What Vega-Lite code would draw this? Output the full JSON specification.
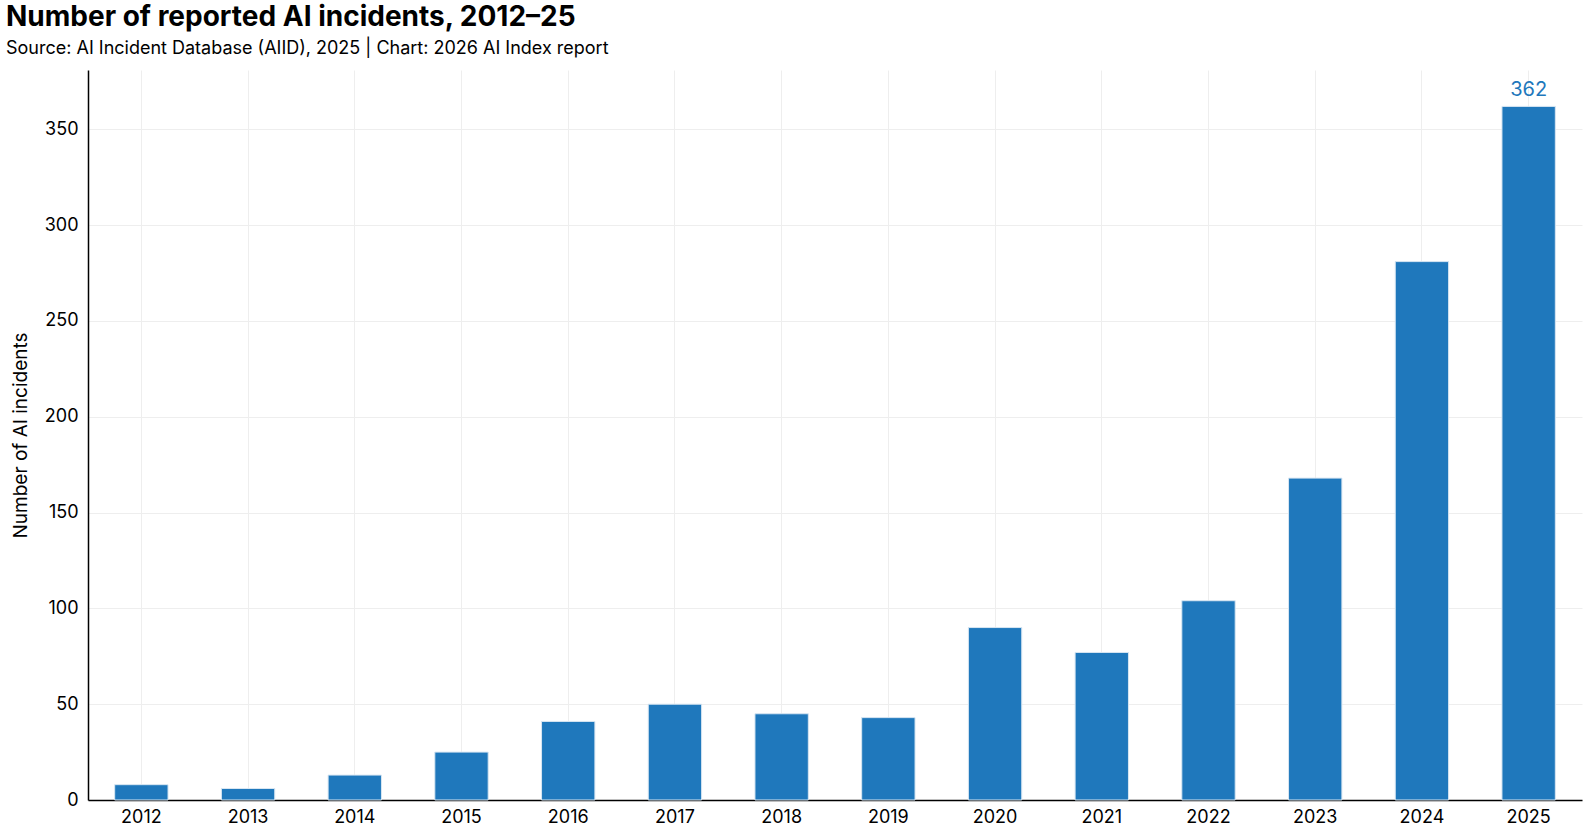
{
  "$schema": "https://vega.github.io/schema/vega-lite/v6.json",
  "width": 1586,
  "height": 840,
  "autosize": {"type": "fit", "contains": "padding"},
  "padding": {"left": 6, "right": 4, "top": 4, "bottom": 14},
  "background": "white",
  "title": {
    "text": "Number of reported AI incidents, 2012–25",
    "subtitle": "Source: AI Incident Database (AIID), 2025 | Chart: 2026 AI Index report",
    "anchor": "start",
    "frame": "group",
    "offset": 12,
    "font": "Inter",
    "fontSize": 28,
    "fontWeight": "bold",
    "color": "black",
    "subtitleFont": "Inter",
    "subtitleFontSize": 18,
    "subtitleColor": "black",
    "subtitlePadding": 8,
    "dx": -82
  },
  "data": {
    "values": [
      {"year": "2012", "count": 8},
      {"year": "2013", "count": 6},
      {"year": "2014", "count": 13},
      {"year": "2015", "count": 25},
      {"year": "2016", "count": 41},
      {"year": "2017", "count": 50},
      {"year": "2018", "count": 45},
      {"year": "2019", "count": 43},
      {"year": "2020", "count": 90},
      {"year": "2021", "count": 77},
      {"year": "2022", "count": 104},
      {"year": "2023", "count": 168},
      {"year": "2024", "count": 281},
      {"year": "2025", "count": 362}
    ]
  },
  "encoding": {
    "x": {
      "field": "year",
      "type": "ordinal",
      "title": null,
      "scale": {"paddingInner": 0.5, "paddingOuter": 0.25},
      "axis": {
        "labelAngle": 0,
        "labelFont": "Inter",
        "labelFontSize": 18,
        "labelColor": "black",
        "domainColor": "black",
        "domainWidth": 1.5,
        "ticks": false,
        "labelPadding": 8,
        "grid": true,
        "gridColor": "#eeeeee",
        "bandPosition": 0.5
      }
    },
    "y": {
      "field": "count",
      "type": "quantitative",
      "title": "Number of AI incidents",
      "scale": {"domain": [0, 381], "nice": false},
      "axis": {
        "values": [0, 50, 100, 150, 200, 250, 300, 350],
        "labelFont": "Inter",
        "labelFontSize": 18,
        "labelColor": "black",
        "titleFont": "Inter",
        "titleFontSize": 19,
        "titleFontWeight": "normal",
        "titleColor": "black",
        "titlePadding": 14,
        "domainColor": "black",
        "domainWidth": 1.5,
        "ticks": false,
        "labelPadding": 10,
        "gridColor": "#eeeeee"
      }
    }
  },
  "layer": [
    {"mark": {"type": "bar", "color": "#1f78bc", "stroke": "#d8e6f2", "strokeWidth": 1}},
    {
      "transform": [{"filter": "datum.year == '2025'"}],
      "mark": {"type": "text", "dy": -16, "font": "Inter", "fontSize": 20, "color": "#1f78bc"},
      "encoding": {"text": {"field": "count", "type": "quantitative"}}
    }
  ],
  "config": {"view": {"stroke": null}}
}
